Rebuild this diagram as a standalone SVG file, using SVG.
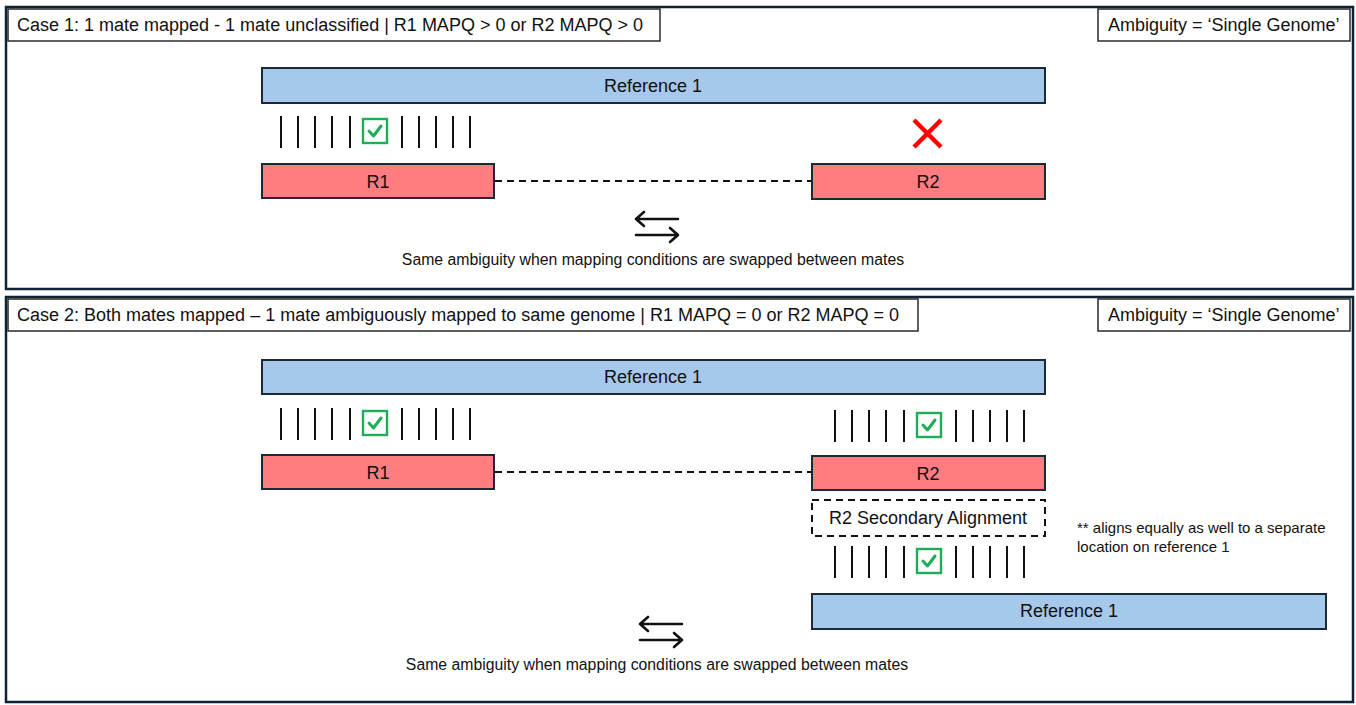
<svg xmlns="http://www.w3.org/2000/svg" width="1356" height="705" viewBox="0 0 1356 705">
<style>
text{font-family:"Liberation Sans",Arial,sans-serif;fill:#111}
.panel{fill:#fff;stroke:#0f2336;stroke-width:2.5}
.tbox{fill:#fff;stroke:#2a2a2a;stroke-width:1.5}
.ref{fill:#a6c8ea;stroke:#1c2a38;stroke-width:2}
.read{fill:#ff7c80;stroke:#1c2a38;stroke-width:2}
.t18{font-size:18px}
.t16{font-size:15.8px}
.t15{font-size:15px}
.mid{text-anchor:middle}
.tick{stroke:#111;stroke-width:2}
.chk{fill:#fff;stroke:#1fae56;stroke-width:2.4}
.chkm{fill:none;stroke:#1fae56;stroke-width:3;stroke-linecap:round;stroke-linejoin:round}
.dash{stroke:#111;stroke-width:2;stroke-dasharray:7 5;fill:none}
.dbox{fill:#fff;stroke:#111;stroke-width:2;stroke-dasharray:7 5}
.arr{fill:none;stroke:#111;stroke-width:2.6;stroke-linecap:round;stroke-linejoin:round}
</style>
<defs>
<g id="ticks">
<line class="tick" x1="0" y1="0" x2="0" y2="32"/>
<line class="tick" x1="17" y1="0" x2="17" y2="32"/>
<line class="tick" x1="34" y1="0" x2="34" y2="32"/>
<line class="tick" x1="51" y1="0" x2="51" y2="32"/>
<line class="tick" x1="69" y1="0" x2="69" y2="32"/>
<rect class="chk" x="82" y="3" width="24" height="24"/>
<polyline class="chkm" points="88,15 92.5,20 100,10"/>
<line class="tick" x1="121" y1="0" x2="121" y2="32"/>
<line class="tick" x1="138" y1="0" x2="138" y2="32"/>
<line class="tick" x1="155" y1="0" x2="155" y2="32"/>
<line class="tick" x1="172" y1="0" x2="172" y2="32"/>
<line class="tick" x1="189" y1="0" x2="189" y2="32"/>
</g>
<g id="swap">
<path class="arr" d="M42,0 H0 M8,-7 L0,0 L8,7"/>
<path class="arr" d="M0,16 H42 M34,9 L42,16 L34,23"/>
</g>
</defs>

<g id="panel1">
<rect class="panel" x="6" y="7" width="1347" height="282"/>
<g id="case1-title">
<rect class="tbox" x="8" y="9" width="652" height="32"/>
<text class="t18" x="17" y="31">Case 1: 1 mate mapped - 1 mate unclassified | R1 MAPQ &gt; 0 or R2 MAPQ &gt; 0</text>
</g>
<g id="case1-ambiguity">
<rect class="tbox" x="1098" y="9" width="252" height="32"/>
<text class="t18" x="1108" y="31">Ambiguity = ‘Single Genome’</text>
</g>
<g id="c1-ref1">
<rect class="ref" x="262" y="68" width="783" height="35"/>
<text class="t18 mid" x="653" y="92">Reference 1</text>
</g>
<g id="c1-r1-ticks"><use href="#ticks" x="281" y="116"/></g>
<g id="c1-r2-x">
<path d="M914,120 L941,147 M941,120 L914,147" stroke="#ff0000" stroke-width="4.5" fill="none"/>
</g>
<g id="c1-connectors"><line class="dash" x1="495" y1="181" x2="812" y2="181"/></g>
<g id="c1-r1">
<rect class="read" x="262" y="164" width="232" height="34"/>
<text class="t18 mid" x="378" y="188">R1</text>
</g>
<g id="c1-r2">
<rect class="read" x="812" y="164" width="233" height="35"/>
<text class="t18 mid" x="928" y="188">R2</text>
</g>
<g id="c1-swap"><use href="#swap" x="636" y="219"/></g>
<text class="t16 mid" x="653" y="265">Same ambiguity when mapping conditions are swapped between mates</text>
</g>

<g id="panel2">
<rect class="panel" x="6" y="297" width="1347" height="405"/>
<g id="case2-title">
<rect class="tbox" x="8" y="299" width="910" height="32"/>
<text class="t18" x="17" y="321">Case 2: Both mates mapped – 1 mate ambiguously mapped to same genome | R1 MAPQ = 0 or R2 MAPQ = 0</text>
</g>
<g id="case2-ambiguity">
<rect class="tbox" x="1098" y="299" width="252" height="32"/>
<text class="t18" x="1108" y="321">Ambiguity = ‘Single Genome’</text>
</g>
<g id="c2-ref1">
<rect class="ref" x="262" y="360" width="783" height="34"/>
<text class="t18 mid" x="653" y="383">Reference 1</text>
</g>
<g id="c2-r1-ticks"><use href="#ticks" x="281" y="408"/></g>
<g id="c2-r2-ticks"><use href="#ticks" x="835" y="410"/></g>
<g id="c2-connectors"><line class="dash" x1="495" y1="472" x2="812" y2="472"/></g>
<g id="c2-r1">
<rect class="read" x="262" y="455" width="232" height="34"/>
<text class="t18 mid" x="378" y="479">R1</text>
</g>
<g id="c2-r2">
<rect class="read" x="812" y="456" width="233" height="34"/>
<text class="t18 mid" x="928" y="480">R2</text>
</g>
<g id="c2-r2-secondary">
<rect class="dbox" x="812" y="500" width="233" height="36"/>
<text class="t18 mid" x="928" y="524">R2 Secondary Alignment</text>
</g>
<g id="c2-note">
<text class="t15" x="1077" y="533">** aligns equally as well to a separate</text>
<text class="t15" x="1077" y="552">location on reference 1</text>
</g>
<g id="c2-sec-ticks"><use href="#ticks" x="835" y="546"/></g>
<g id="c2-ref1b">
<rect class="ref" x="812" y="594" width="514" height="35"/>
<text class="t18 mid" x="1069" y="617">Reference 1</text>
</g>
<g id="c2-swap"><use href="#swap" x="640" y="624"/></g>
<text class="t16 mid" x="657" y="670">Same ambiguity when mapping conditions are swapped between mates</text>
</g>
</svg>
